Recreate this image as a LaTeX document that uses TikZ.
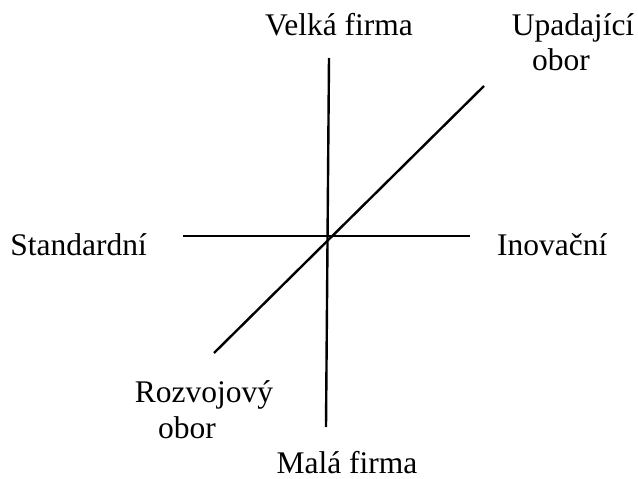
\documentclass[tikz,border=0pt]{standalone}
\usepackage{fontspec}
\setmainfont{Liberation Serif}
\newfontfamily\timesfont{Liberation Serif}
\usetikzlibrary{positioning}
\tikzset{
    axislabel/.style={font=\timesfont\fontsize{31.5}{36}\selectfont, inner sep=0pt, anchor=base},
    axis/.style={line width=2.4pt}
}
\begin{document}
\begin{tikzpicture}[x=1pt, y=-1pt]
        \useasboundingbox (0,0) rectangle (638,479);
        % ends of the three lines
        \coordinate (top) at (329,58);
        \coordinate (bottom) at (326,427);
        \coordinate (left) at (183,236);
        \coordinate (right) at (470,236);
        \coordinate (upleft) at (214,353);
        \coordinate (upright) at (484,86);
        % labels
        \node[axislabel] (velka) at (339,35) {Velká firma};
        \node[axislabel] (mala) at (347,473) {Malá firma};
        \node[axislabel, anchor=base east] (standard) at (147,255) {Standardní};
        \node[axislabel, anchor=base west] (inov) at (497,255) {Inovační};
        \node[axislabel] (upad) at (573,35) {Upadající};
        \node[axislabel] (upadobor) at (561,70) {obor};
        \node[axislabel] (rozvoj) at (204,402) {Rozvojový};
        \node[axislabel] (rozvojobor) at (187,438) {obor};
        \draw[axis] (top) -- (bottom);
        \draw[axis] (left) -- (right);
        \draw[axis] (upleft) -- (upright);
    \end{tikzpicture}
\end{document}
